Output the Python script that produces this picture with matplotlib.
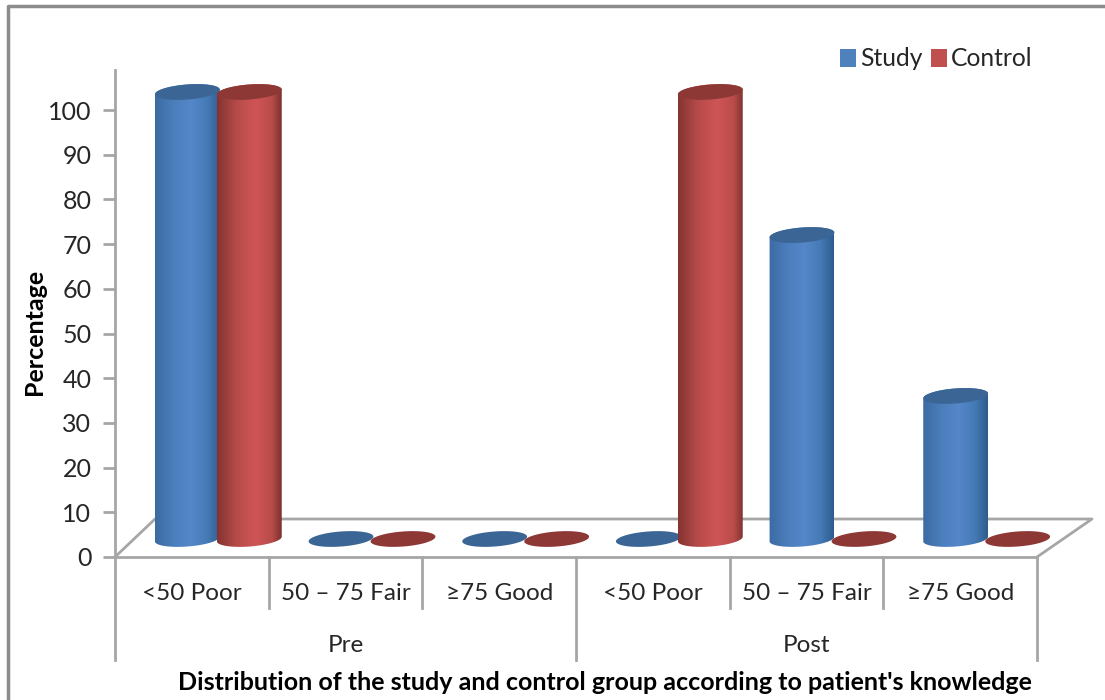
import numpy as np
import matplotlib
matplotlib.use("Agg")
import matplotlib.pyplot as plt
from matplotlib.colors import LinearSegmentedColormap
from matplotlib.lines import Line2D
from matplotlib.patches import Patch, PathPatch, Polygon
from matplotlib.path import Path

plt.rcParams["font.family"]=["Lato","DejaVu Sans"]

categories=["<50 Poor","50 – 75 Fair","≥75 Good","<50 Poor","50 – 75 Fair","≥75 Good"]
groups=["Pre","Post"]
study=[100,0,0,0,68,32]
control=[100,0,0,100,0,0]
yticks=[0,10,20,30,40,50,60,70,80,90,100]

GREY="#a6a6a6"
TEXT="#262626"
W,H=1105,700
X0,X1=115,1037   # plot area in pixels
Y0,Y1=557,70
px_x=(X1-X0)/6.0
px_y=(557-110)/100.0

# cylinder shape, pixels
A=32.5; B=7.5; TILT=np.radians(4.4)
DX_BLUE=-4.5; DX_RED=57.5
DEPTH_Y=18

fig=plt.figure(figsize=(W/100,H/100),dpi=100)
ax=fig.add_axes([X0/W,1-Y0/H,(X1-X0)/W,(Y0-Y1)/H])
ax.patch.set_alpha(0)

def ell(xc,yc,t):
    ex=A*np.cos(t)*np.cos(TILT)-B*np.sin(t)*np.sin(TILT)
    ey=A*np.cos(t)*np.sin(TILT)+B*np.sin(t)*np.cos(TILT)
    return xc+ex/px_x,yc+ey/px_y

def cylinder(xc,val,stops,c_top,z):
    y0=DEPTH_Y/px_y
    y1=y0+val
    if val>0:
        xa,ya=ell(xc,y0,np.linspace(np.pi,2*np.pi,60))
        xb,yb=ell(xc,y1,np.linspace(0,np.pi,60))
        pts=np.column_stack([np.r_[xa,xb],np.r_[ya,yb]])
        cm=LinearSegmentedColormap.from_list("c",stops,N=128)
        grad=np.linspace(0,1,128).reshape(1,-1)
        w=A/px_x
        im=ax.imshow(grad,cmap=cm,aspect="auto",extent=[xc-w,xc+w,y0-3,y1+3],zorder=z,clip_on=True)
        p=PathPatch(Path(np.vstack([pts,pts[0]])),transform=ax.transData,fc="none",ec="none")
        ax.add_patch(p)
        im.set_clip_path(p)
    xt,yt=ell(xc,y1,np.linspace(0,2*np.pi,90))
    ax.add_patch(Polygon(np.column_stack([xt,yt]),closed=True,fc=c_top,ec="none",zorder=z+0.1,clip_on=False))

# floor of the 3d box
back_y=(Y0-519)/px_y
ax.plot([0,40/px_x,(1092-X0)/px_x,6],[0,back_y,back_y,0],color=GREY,lw=2,zorder=1,clip_on=False)

blue_stops=[(0,"#3c6ba3"),(0.3,"#4c7fbd"),(0.55,"#5587c9"),(0.8,"#447ab5"),(1,"#2f5c8e")]
red_stops=[(0,"#843432"),(0.3,"#b64b49"),(0.6,"#cf5555"),(0.85,"#b84c4a"),(1,"#7b302e")]
for i in range(6):
    cylinder(i+0.5+DX_BLUE/px_x,study[i],blue_stops,"#3a6594",2+i)
    cylinder(i+0.5+DX_RED/px_x,control[i],red_stops,"#8e3836",2.5+i)

ax.set_xlim(0,6)
ax.set_ylim(0,(Y0-Y1)/px_y)

for s in ["top","right"]:
    ax.spines[s].set_visible(False)
for s in ["left","bottom"]:
    ax.spines[s].set_color(GREY)
    ax.spines[s].set_linewidth(2)

ax.set_yticks(yticks)
ax.tick_params(axis="y",length=9,width=2,color=GREY,labelsize=18,labelcolor=TEXT,pad=8)
ax.set_xticks(np.arange(6)+0.5)
ax.set_xticklabels(categories)
ax.tick_params(axis="x",length=0,labelsize=17.5,labelcolor=TEXT,pad=19)

# multi level axis separators
tr=ax.get_xaxis_transform()
sep_short=-(608-Y0)/(Y0-Y1)
sep_long=-(660-Y0)/(Y0-Y1)
for i in [1,2,4,5]:
    ax.plot([i,i],[0,sep_short],transform=tr,color=GREY,lw=2,clip_on=False)
for i in [0,3,6]:
    ax.plot([i,i],[0,sep_long],transform=tr,color=GREY,lw=2,clip_on=False)
for j,g in enumerate(groups):
    ax.text(1.5+3*j,-(645-Y0)/(Y0-Y1),g,transform=tr,ha="center",va="center",fontsize=17.5,color=TEXT)

fig.text(605/W,1-683/H,"Distribution of the study and control group according to patient's knowledge",
         ha="center",va="center",fontsize=18,fontweight="bold",color="black")
fig.text(34/W,1-332/H,"Percentage",rotation=90,ha="center",va="center",fontsize=18,fontweight="bold",color="black")

handles=[Patch(fc="#4f81bd",label="Study"),Patch(fc="#c0504d",label="Control")]
leg=fig.legend(handles=handles,ncol=2,loc="center left",bbox_to_anchor=(818/W,1-59/H),frameon=False,
           fontsize=17.7,handlelength=0.65,handleheight=0.75,handletextpad=0.15,columnspacing=0.35,labelcolor=TEXT)

# outer chart frame
fig.add_artist(Line2D([8/W,8/W,1],[0,1-6/H,1-6/H],color="#8c8c8c",lw=2.5))

fig.savefig("out.png",dpi=100)
